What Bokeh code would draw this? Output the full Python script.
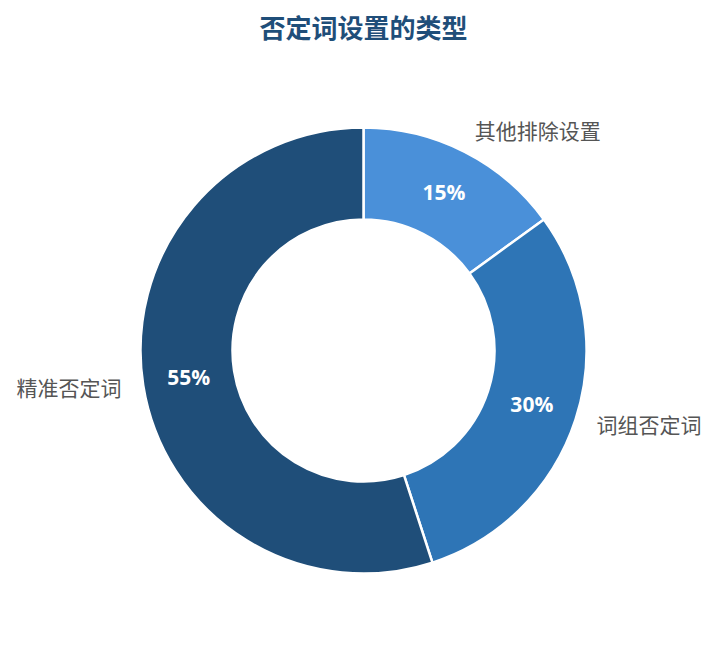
import math
from bokeh.plotting import figure
from bokeh.models import ColumnDataSource
from bokeh.core.properties import value
from bokeh.embed import file_html
from bokeh.resources import INLINE

title_text = "否定词设置的类型"
categories = ["其他排除设置", "词组否定词", "精准否定词"]
values = [15, 30, 55]
colors = ["#4A90D9", "#2E75B6", "#1F4E79"]

W, H = 701, 629
cx, cy = 363, H - 350
r_in, r_out = 131, 223
r_lab = 245

total = sum(values)
starts, ends, mids = [], [], []
cum = 0
for v in values:
    s = math.pi / 2 - 2 * math.pi * cum / total
    cum += v
    e = math.pi / 2 - 2 * math.pi * cum / total
    starts.append(s)
    ends.append(e)
    mids.append((s + e) / 2)

src = ColumnDataSource(dict(
    start=starts, end=ends, color=colors,
    px=[cx + (r_in + r_out) / 2 * math.cos(m) for m in mids],
    py=[cy + 1 + (r_in + r_out) / 2 * math.sin(m) for m in mids],
    pct=[f"{v}%" for v in values],
))

lx = [cx + r_lab * math.cos(m) for m in mids]
ly = [cy + 2 + r_lab * math.sin(m) for m in mids]
align = ["left" if math.cos(m) >= 0 else "right" for m in mids]
lab = ColumnDataSource(dict(x=lx, y=ly, t=categories, align=align))

p = figure(width=W, height=H, x_range=(0, W), y_range=(0, H),
           output_backend="svg", toolbar_location=None, min_border=0)
p.axis.visible = False
p.grid.visible = False
p.outline_line_color = None
p.background_fill_color = "white"

p.annular_wedge(x=cx, y=cy, inner_radius=r_in, outer_radius=r_out,
                start_angle="start", end_angle="end", direction="clock",
                fill_color="color", line_color="white", line_width=2.5, source=src)

p.text(x="px", y="py", text="pct", source=src, text_color="white",
       text_font=value("Open Sans"), text_font_style="bold", text_font_size="21px",
       text_align="center", text_baseline="middle")

p.text(x="x", y="y", text="t", source=lab, text_color="#555555",
       text_font=value("Noto Sans CJK SC"), text_font_size="21px",
       text_align="align", text_baseline="middle")

p.text(x=[cx], y=[H - 26], text=[title_text], text_color="#1F4E79",
       text_font=value("Noto Sans CJK SC"), text_font_style="bold", text_font_size="26px",
       text_align="center", text_baseline="middle")

open("out.html", "w").write(file_html(p, INLINE))
